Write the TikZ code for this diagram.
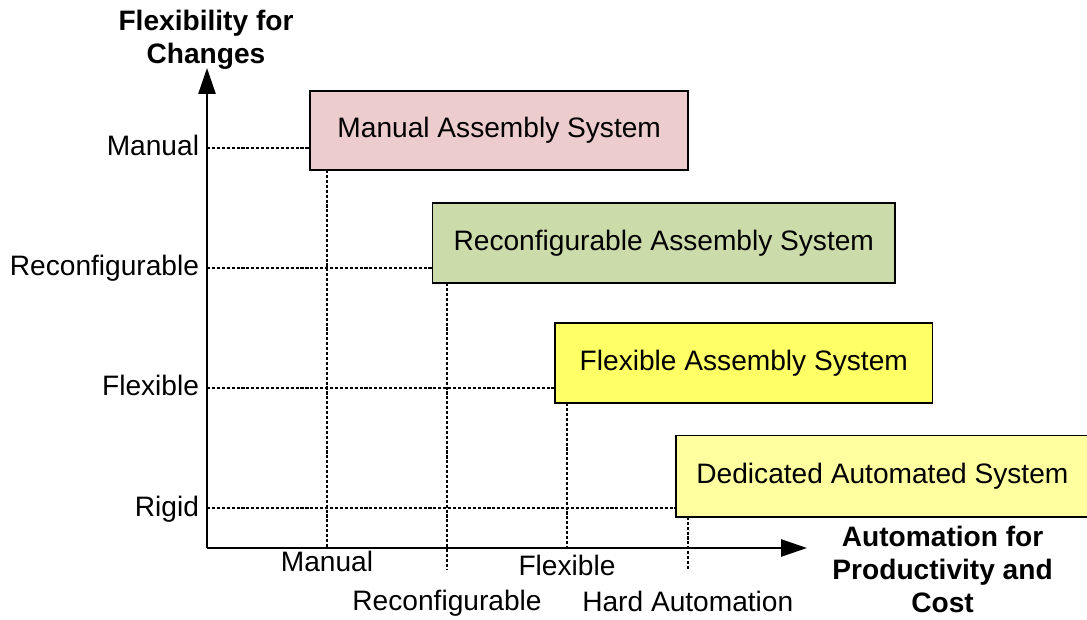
\documentclass[tikz,border=0pt]{standalone}
\usepackage{fontspec}
\setmainfont{Liberation Sans}
\usetikzlibrary{arrows.meta}

\definecolor{manual fill}{RGB}{236,204,204}
\definecolor{reconf fill}{RGB}{204,219,170}
\definecolor{flex fill}{RGB}{255,255,102}
\definecolor{dedicated fill}{RGB}{255,255,160}

\begin{document}
\begin{tikzpicture}[font=\fontsize{20}{23.5}\selectfont, line width=1.4pt,
	system/.style={draw, line width=1.2pt, inner sep=0pt, outer sep=0pt, anchor=south west, minimum height=2cm},
	guide/.style={line width=1pt, dash pattern=on 2.2pt off 1.3pt},
	level label/.style={inner sep=0pt},
	axis title/.style={font=\fontsize{20}{23.5}\selectfont\bfseries, align=center, inner sep=0pt, anchor=base}]
	\useasboundingbox (-5.175,-1.775) rectangle (22,13.7);

	\node (manual) [system, fill=manual fill, minimum width=9.45cm, minimum height=1.98cm] at (2.58,9.45) {Manual Assembly System};
	\node (reconf) [system, fill=reconf fill, minimum width=11.56cm, minimum height=2.01cm] at (5.64,6.62) {Reconfigurable Assembly System};
	\node (flex) [system, fill=flex fill, minimum width=9.44cm] at (8.7,3.62) {Flexible Assembly System};
	\node (dedicated) [system, fill=dedicated fill, minimum width=10.33cm, minimum height=2.03cm] at (11.72,0.78) {Dedicated Automated System};

	\foreach \y/\sys/\lbl in {10/manual/Manual, 7/reconf/Reconfigurable, 4/flex/Flexible, 1/dedicated/Rigid} {
		\coordinate (f \sys) at (0,\y);
		\node (f label \sys) at (-0.175,\y) [level label, anchor=base east, yshift=-0.2cm] {\lbl};
		\draw [guide] (f \sys) -- (f \sys -| \sys.west);
	}

	\foreach \x/\sys/\lbl/\yend/\ybase in {3/manual/Manual/0/0.59, 6/reconf/Reconfigurable/-0.55/1.55,
			9/flex/Flexible/0/0.675, 12.02/dedicated/Hard Automation/-0.55/1.59} {
		\coordinate (a \sys) at (\x,\yend);
		\draw [guide] (\sys.south west -| a \sys) -- (a \sys);
		\node (a label \sys) at (\x,-\ybase) [level label, anchor=base] {\lbl};
	}

	\coordinate (O) at (0,0);
	\coordinate (y tip) at (0,12);
	\coordinate (x tip) at (15,0);
	\draw [-{Triangle[length=0.65cm, width=0.43cm]}] (O) -- (y tip);
	\draw [-{Triangle[length=0.65cm, width=0.43cm]}] (O) -- (x tip);

	\node (y title) at (-0.025,12.1) [axis title] {Flexibility for\\Changes};
	\node (x title) at (18.39,-1.62) [axis title] {Automation for\\Productivity and\\Cost};
\end{tikzpicture}
\end{document}
